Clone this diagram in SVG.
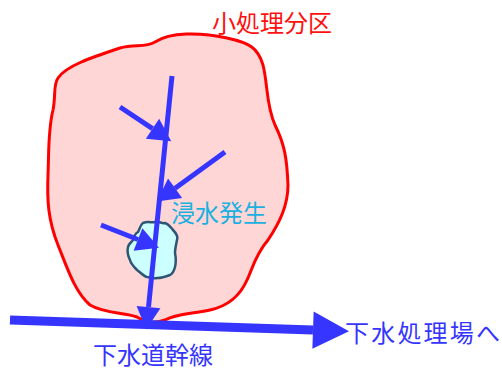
<svg xmlns="http://www.w3.org/2000/svg" width="502" height="371" viewBox="0 0 502 371">
<style>
.t{font-family:"Noto Sans CJK JP","Noto Sans CJK SC",sans-serif;font-size:24px}
.a{stroke:#3535ff;fill:none;stroke-linecap:butt}
</style>
<defs>
<marker id="h" markerUnits="userSpaceOnUse" orient="auto" refX="0" refY="0" markerWidth="30" markerHeight="30" viewBox="0 -10 16 20" overflow="visible"><path d="M0,-8 L15,0 L0,8 Z" fill="#3535ff"/></marker>
<marker id="H" markerUnits="userSpaceOnUse" orient="auto" refX="0" refY="0" markerWidth="40" markerHeight="40" viewBox="0 -15 28 30" overflow="visible"><path d="M0,-14 L27,0 L0,14 Z" fill="#3535ff"/></marker>
</defs>
<g id="area">
<path d="M58,78 C66,66 90,58 120,48 C135,44 145,48 155,42 C170,32 200,32 227,38 C250,43 258,48 263,65 C268,85 266,105 275,125 C285,145 287,160 288,185 C288,205 280,222 268,240 C255,255 252,270 247,280 C240,296 228,306 210,310 C190,314 175,314 165,320 C155,324 145,322 137,317 C125,312 105,314 90,305 C75,292 68,270 58,245 C48,220 47,200 48,175 C49,150 48,130 53,110 C56,95 53,85 58,78 Z" fill="#ffd6d6" stroke="#ff0000" stroke-width="3"/>
<text class="t" x="212" y="32" fill="#ff1010">小処理分区</text>
</g>
<g id="flood">
<path d="M143,223 C148,221 152,223 155,222 C159,221 162,224 165,223 C169,224 171,228 173,230 C176,233 178,237 177,240 C176,245 175,249 175,253 C176,258 176,263 175,267 C174,271 172,274 170,275 C165,277 161,278 157,278 C153,279 150,277 147,277 C143,276 140,272 137,270 C134,267 131,264 130,260 C128,256 127,251 128,247 C129,243 132,242 133,240 C134,236 136,233 138,232 C140,228 141,224 143,223 Z" fill="#ccffff" stroke="#2d5575" stroke-width="2.5"/>
<text class="t" x="171" y="222" fill="#1ab0e0">浸水発生</text>
</g>
<g id="connectors">
<line class="a" x1="172" y1="76" x2="148.5" y2="307.1" stroke-width="5" marker-end="url(#h)"/>
<line class="a" x1="120" y1="107" x2="152.5" y2="128.7" stroke-width="5" marker-end="url(#h)"/>
<line class="a" x1="225" y1="152" x2="175.1" y2="188.2" stroke-width="5" marker-end="url(#h)"/>
<line class="a" x1="101" y1="225" x2="138" y2="239.5" stroke-width="5" marker-end="url(#h)"/>
<line class="a" x1="10" y1="320" x2="313" y2="330.1" stroke-width="9" marker-end="url(#H)"/>
</g>
<g id="trunk">
<text class="t" x="93" y="364" fill="#3535ff">下水道幹線</text>
</g>
<g id="plant">
<text class="t" x="345" y="342" fill="#3535ff" textLength="155">下水処理場へ</text>
</g>
</svg>
